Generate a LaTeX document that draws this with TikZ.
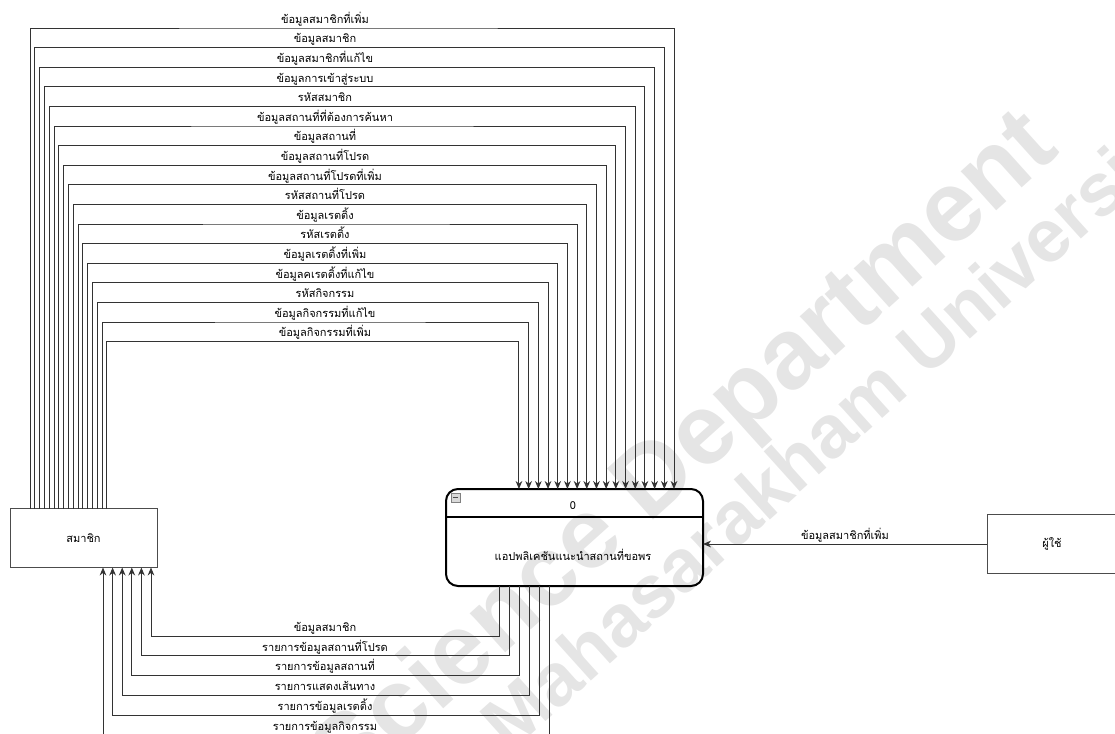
\documentclass[tikz,border=0pt]{standalone}
\usepackage{fontspec}
\setmainfont[Script=Thai]{Loma}
\newfontfamily\wmfont{Liberation Sans}
\usetikzlibrary{arrows.meta}

\begin{document}
\begin{tikzpicture}[x=0.75pt, y=-0.75pt, >={Stealth[length=6pt,width=5pt]},
    font=\fontsize{8.25}{10}\selectfont,
    box/.style={draw=black!70, line width=0.75pt, inner sep=0pt, outer sep=0pt},
    flow/.style={draw=black!80, line width=0.75pt},
    lbl/.style={anchor=base, inner sep=0pt, yshift=3.5pt},
    wmark/.style={text=gray!20, inner sep=0pt, rotate=42, anchor=base east}]

    \useasboundingbox (0,0) rectangle (1115,733);

    % watermark
    \node[wmark, font=\wmfont\bfseries\fontsize{75}{80}\selectfont] (wm1) at (1062,152) {Computer Science Department};
    \node[wmark, font=\wmfont\bfseries\fontsize{56}{60}\selectfont] (wm2) at (1195,137) {Mahasarakham University};

    \node[box, minimum width=110.25pt, minimum height=44.25pt] (member) at (83.5,538) {สมาชิก};
    \node[box, minimum width=97.5pt, minimum height=44.25pt] (user) at (1052,544) {ผู้ใช้};
    \node[draw=black, line width=1.5pt, rounded corners=9pt, minimum width=192.75pt,
        minimum height=72.75pt, inner sep=0pt, outer sep=0pt] (proc) at (574.5,537.5) {};
    \coordinate (hy) at (0,517);
    \draw[line width=1.5pt] (proc.west |- hy) -- (proc.east |- hy);
    \node[draw=black!50, fill=black!15, minimum size=6.75pt, inner sep=0pt] (pmin) at (455.5,497.5) {};
    \draw[black!70, line width=1pt] ([xshift=-2pt]pmin.center) -- ([xshift=2pt]pmin.center);
    \node (pnum) at (573,506) {0};
    \node (pname) at (573,555) {แอปพลิเคชันแนะนำสถานที่ขอพร};

    \foreach \txt [count=\i from 0] in {ข้อมูลสมาชิกที่เพิ่ม, ข้อมูลสมาชิก, ข้อมูลสมาชิกที่แก้ไข,
        ข้อมูลการเข้าสู่ระบบ, รหัสสมาชิก, ข้อมูลสถานที่ที่ต้องการค้นหา, ข้อมูลสถานที่,
        ข้อมูลสถานที่โปรด, ข้อมูลสถานที่โปรดที่เพิ่ม, รหัสสถานที่โปรด, ข้อมูลเรตติ้ง,
        รหัสเรตติ้ง, ข้อมูลเรตติ้งที่เพิ่ม, ข้อมูลคเรตติ้งที่แก้ไข, รหัสกิจกรรม,
        ข้อมูลกิจกรรมที่แก้ไข, ข้อมูลกิจกรรมที่เพิ่ม} {
        \coordinate (a) at ({30+4.81*\i},0);
        \coordinate (b) at (325,{28+19.6*\i});
        \coordinate (c) at ({674-9.69*\i},0);
        \draw[flow,->] (member.north -| a) |- (b) node[lbl] (t\i) {\txt} -| (proc.north -| c);
    }

    \foreach \txt [count=\j from 0] in {ข้อมูลสมาชิก, รายการข้อมูลสถานที่โปรด, รายการข้อมูลสถานที่,
        รายการแสดงเส้นทาง, รายการข้อมูลเรตติ้ง, รายการข้อมูลกิจกรรม} {
        \coordinate (a) at ({499+10*\j},0);
        \coordinate (b) at (325,{636+19.8*\j});
        \coordinate (c) at ({151-9.6*\j},0);
        \draw[flow,->] (proc.south -| a) |- (b) node[lbl] (u\j) {\txt} -| (member.south -| c);
    }

    \draw[flow,->] (user.west) -- (user.west -| proc.east) node[lbl, pos=0.5] (v0) {ข้อมูลสมาชิกที่เพิ่ม};

\end{tikzpicture}
\end{document}
